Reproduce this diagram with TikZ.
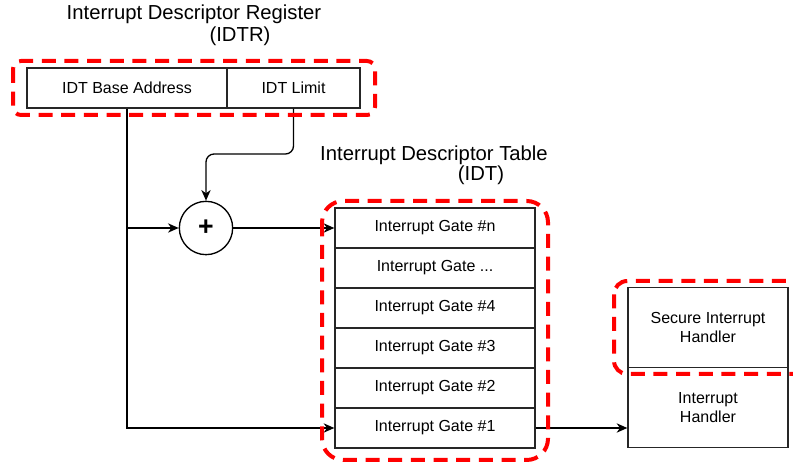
\documentclass[tikz,border=0pt]{standalone}
\usepackage{fontspec}
\setmainfont{Liberation Sans}
\usetikzlibrary{arrows.meta,calc}
\begin{document}
\begin{tikzpicture}[x=0.75pt,y=-0.75pt,
  cell/.style={draw=black!85,line width=1pt,minimum height=30pt,inner sep=0pt,align=center,font=\fontsize{12}{14}\selectfont},
  gate/.style={cell,minimum width=150pt},
  handler/.style={cell,minimum width=120pt,minimum height=60pt},
  title/.style={inner sep=0pt,font=\fontsize{15.2}{17}\selectfont},
  arr/.style={draw=black,line width=1pt,-{Stealth[length=8pt,width=7pt,inset=2.5pt]}},
  reddash/.style={draw=red,line width=3pt,dash pattern=on 10.5pt off 6.5pt}]
\useasboundingbox (0,0) rectangle (793,466);
% titles
\node[title] (t1) at (194,14) {Interrupt Descriptor Register};
\node[title] (t1b) at (240,36) {(IDTR)};
\node[title] (t2) at (434,155) {Interrupt Descriptor Table};
\node[title] (t2b) at (481,175) {(IDT)};
% IDTR
\node[cell,minimum width=150pt] (base) at (127,88) {IDT Base Address};
\node[cell,minimum width=99.75pt] (limit) at (293.5,88) {IDT Limit};
% plus
\node[draw=black,line width=1pt,circle,minimum size=40pt,inner sep=0pt,font=\fontsize{20}{20}\selectfont\bfseries] (plus) at (206,228) {+};
% IDT gates
\node[gate] (gn) at (435,228) {Interrupt Gate \#n};
\node[gate] (gd) at (435,268) {Interrupt Gate ...};
\node[gate] (g4) at (435,308) {Interrupt Gate \#4};
\node[gate] (g3) at (435,348) {Interrupt Gate \#3};
\node[gate] (g2) at (435,388) {Interrupt Gate \#2};
\node[gate] (g1) at (435,428) {Interrupt Gate \#1};
% handlers
\node[handler] (sih) at (708,327.5) {Secure Interrupt\\Handler};
\node[handler] (ih) at (708,407.5) {Interrupt\\Handler};
% connectors
\coordinate (bend) at (206,154);
\draw[arr,rounded corners=6pt] (limit.south) |- (bend) -- (plus.north);
\draw[arr] (base.south) |- (g1.west);
\draw[arr] (base.south |- plus.west) -- (plus.west);
\draw[arr] (plus.east) -- (gn.west);
\draw[arr] (g1.east) -- (g1.east -| ih.west);
% red dashed outlines
\draw[reddash,rounded corners=6pt] (13,61) rectangle (375,115);
\draw[reddash,rounded corners=16pt] (322,201) rectangle (548,460);
\draw[reddash,rounded corners=10pt] (614,281) rectangle (815,374);
\end{tikzpicture}
\end{document}
